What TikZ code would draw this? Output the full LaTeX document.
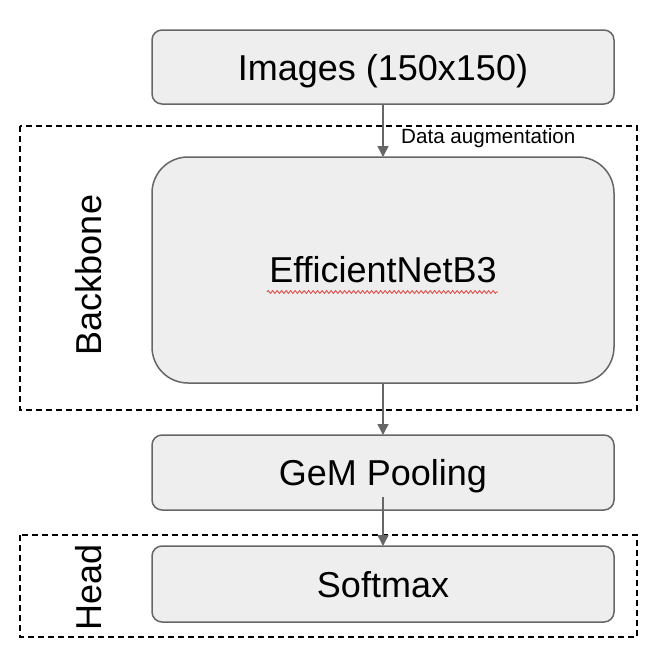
\documentclass[tikz,border=0pt]{standalone}
\usepackage{fontspec}
\setmainfont{Liberation Sans}
\usetikzlibrary{arrows.meta,decorations.pathmorphing}
\definecolor{boxfill}{HTML}{EEEEEE}
\definecolor{boxline}{HTML}{666666}
\definecolor{squig}{HTML}{E0403A}
\tikzset{
  blockbox/.style={draw=boxline, fill=boxfill, line width=1.5pt, rounded corners=10pt,
    minimum width=462pt, inner sep=0pt, outer sep=0pt, text height=26pt, text depth=0pt,
    font=\fontsize{36}{40}\selectfont},
  groupbox/.style={draw=black, line width=1.4pt, dash pattern=on 6pt off 4pt},
  grouplabel/.style={rotate=90, font=\fontsize{36}{40}\selectfont, inner sep=0pt},
  flow/.style={draw=boxline, line width=1.5pt, -{Triangle[length=11pt,width=11pt]}},
}
\begin{document}
\begin{tikzpicture}[x=1pt,y=-1pt]
\useasboundingbox (0,0) rectangle (654,664);
% group frames
\draw[groupbox] (20,126) rectangle (637,410);
\draw[groupbox] (20,535) rectangle (637,637);
% blocks
\node[blockbox, minimum height=74pt] (img) at (383,67) {Images (150x150)};
\node[blockbox, minimum height=226pt, rounded corners=36pt] (eff) at (383,270) {};
\node[font=\fontsize{36}{40}\selectfont, inner sep=0pt] (efftext) at (383,270) {EfficientNetB3};
\node[blockbox, minimum height=75pt] (gem) at (383,472.5) {GeM Pooling};
\node[blockbox, minimum height=76pt] (soft) at (383,584) {Softmax};
% labels
\node[grouplabel] (bb) at (89,275) {Backbone};
\node[grouplabel] (hd) at (89,587) {Head};
\node[anchor=base west, inner sep=0pt, font=\fontsize{20.6}{24}\selectfont] (aug) at (401,143) {Data augmentation};
% spell-check squiggle
\draw[squig, line width=0.8pt, decorate, decoration={zigzag, amplitude=1.4pt, segment length=4.5pt}]
  ([xshift=-116pt,yshift=-22pt]efftext.center) coordinate (sq1) -- ([xshift=115pt,yshift=-22pt]efftext.center) coordinate (sq2);
% connectors
\coordinate (gemout) at ([yshift=13pt]gem.south);
\draw[flow] (img.south) -- (eff.north);
\draw[flow] (eff.south) -- (gem.north);
\draw[flow] (gemout) -- (soft.north);
\end{tikzpicture}
\end{document}
